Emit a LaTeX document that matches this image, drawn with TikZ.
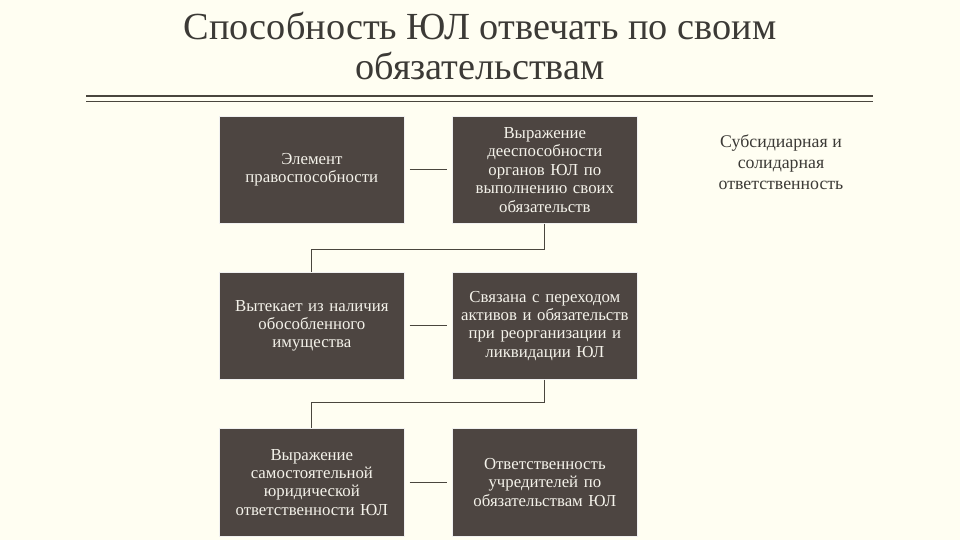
\documentclass[tikz,border=0pt]{standalone}
\usepackage{fontspec}
\setmainfont{Liberation Serif}
\definecolor{bg}{HTML}{FFFEF2}
\definecolor{boxc}{HTML}{4D4541}
\definecolor{linec}{HTML}{4A463E}
\definecolor{titlec}{HTML}{3C3A36}
\definecolor{boxtext}{HTML}{F4F2EA}
\begin{document}
\begin{tikzpicture}[x=1pt,y=-1pt,
  box/.style={fill=boxc, draw=white!88!gray, line width=0.7pt,
    minimum width=185pt, minimum height=107pt, text width=180pt,
    align=center, text=boxtext, font=\fontsize{16.8}{18.4}\selectfont,
    inner sep=0pt, anchor=north west},
  conn/.style={draw=linec, line width=1pt},
  rule/.style={draw=linec}]
\useasboundingbox[fill=bg] (0,0) rectangle (960,540);
\node[font=\fontsize{38.3}{40}\selectfont, text=titlec, align=center, anchor=base] (title) at (480,80)
  {Способность ЮЛ отвечать по своим\\обязательствам};
\coordinate (rl) at (86,96);
\coordinate (rr) at (873,96);
\draw[rule, line width=2.8pt] (rl) -- (rr);
\draw[rule, line width=1pt] ([yshift=-5.8pt]rl) -- ([yshift=-5.8pt]rr);

\node[box] (a1) at (219,116) {Элемент\\правоспособности};
\node[box] (b1) at (452,116) {Выражение\\дееспособности\\органов ЮЛ по\\выполнению своих\\обязательств};
\node[box] (a2) at (219,272) {Вытекает из наличия\\обособленного\\имущества};
\node[box] (b2) at (452,272) {Связана с переходом\\активов и обязательств\\при реорганизации и\\ликвидации ЮЛ};
\node[box, minimum height=108pt] (a3) at (219,428) {Выражение\\самостоятельной\\юридической\\ответственности ЮЛ};
\node[box, minimum height=108pt] (b3) at (452,428) {Ответственность\\учредителей по\\обязательствам ЮЛ};

\node[font=\fontsize{17.8}{21}\selectfont, text=titlec, align=center] (side) at (781,162)
  {Субсидиарная и\\солидарная\\ответственность};

\draw[conn] ([xshift=5pt]a1.east) -- ([xshift=-5pt]b1.west);
\draw[conn] ([xshift=5pt]a2.east) -- ([xshift=-5pt]b2.west);
\draw[conn] ([xshift=5pt]a3.east) -- ([xshift=-5pt]b3.west);
\draw[conn] (b1.south) -- ++(0,26) -| (a2.north);
\draw[conn] (b2.south) -- ++(0,23) -| (a3.north);
\end{tikzpicture}
\end{document}
